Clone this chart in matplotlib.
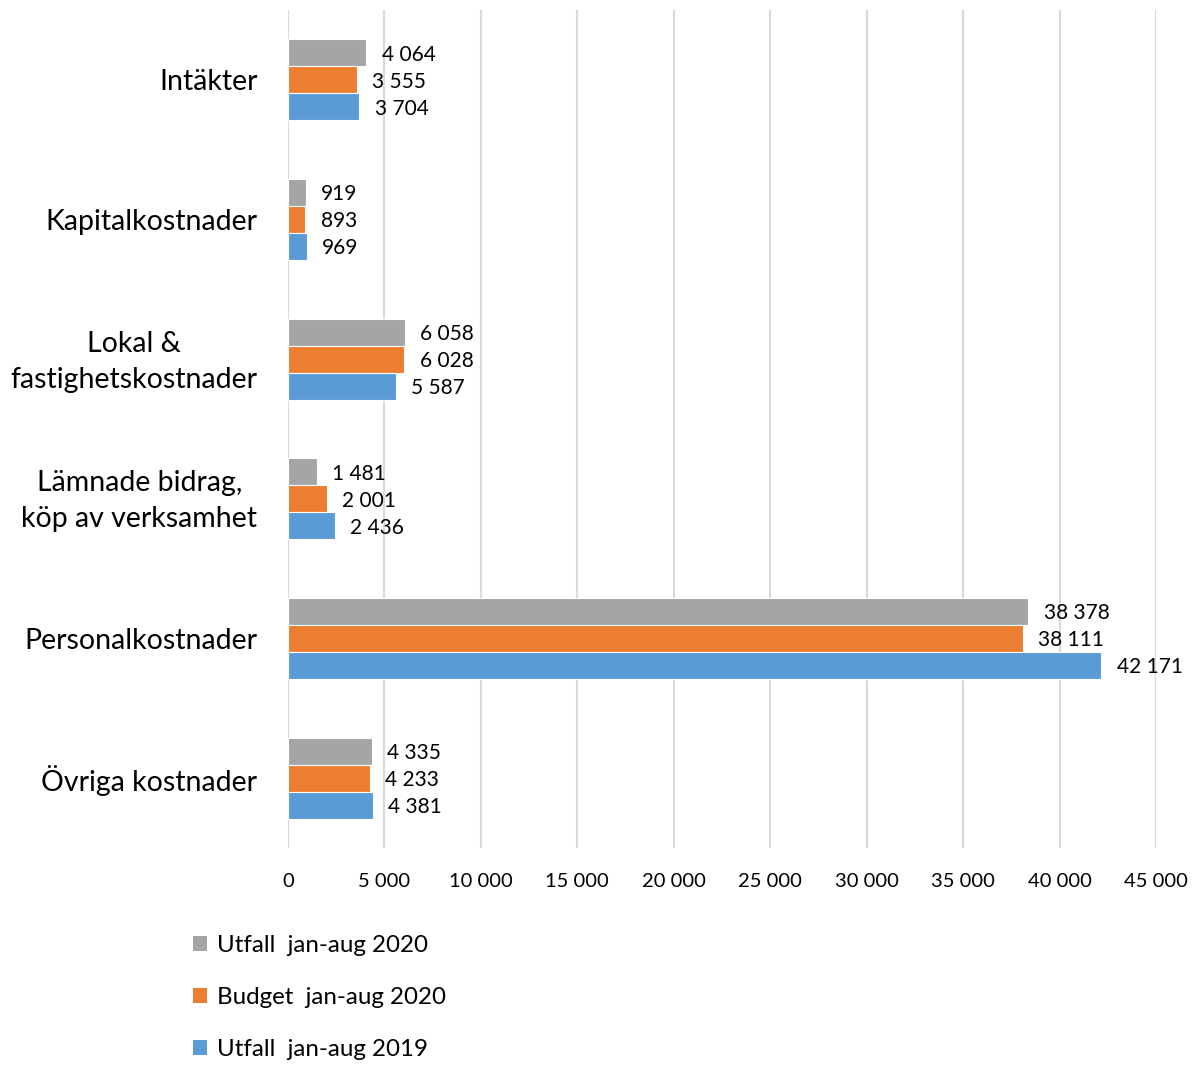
import matplotlib
matplotlib.use("Agg")
import matplotlib.pyplot as plt
import matplotlib.transforms as mtransforms
import numpy as np
from matplotlib.patches import Patch

categories = ["Intäkter", "Kapitalkostnader", "Lokal &\nfastighetskostnader",
              "Lämnade bidrag,\nköp av verksamhet", "Personalkostnader", "Övriga kostnader"]
utfall_2020 = [4064, 919, 6058, 1481, 38378, 4335]
budget_2020 = [3555, 893, 6028, 2001, 38111, 4233]
utfall_2019 = [3704, 969, 5587, 2436, 42171, 4381]
series_names = ["Utfall  jan-aug 2020", "Budget  jan-aug 2020", "Utfall  jan-aug 2019"]
colors = ["#A5A5A5", "#ED7D31", "#5B9BD5"]
xticks = [0, 5000, 10000, 15000, 20000, 25000, 30000, 35000, 40000, 45000]

plt.rcParams['font.family'] = ['Lato', 'DejaVu Sans']

fig = plt.figure(figsize=(12, 10.65), dpi=100)
ax = fig.add_axes([0.24, 0.2038, 0.7233, 0.7868])

y = np.arange(len(categories))
h = 0.193
series = [utfall_2020, budget_2020, utfall_2019]
offsets = [-h, 0, h]

def fmt(v):
    return f"{v:,}".replace(",", " ")

for vals, off, col, name in zip(series, offsets, colors, series_names):
    bars = ax.barh(y + off, vals, height=h, color=col, edgecolor="white", linewidth=0.8, label=name, zorder=3)
    for b, v in zip(bars, vals):
        ax.annotate(fmt(v), (v, b.get_y() + b.get_height() / 2), xytext=(11, -1.3),
                    textcoords="offset points", va="center", ha="left", fontsize=15, color="#000000")

ax.set_ylim(len(categories) - 0.5, -0.5)
ax.set_xlim(0, 45000)
ax.set_xticks(xticks)
ax.set_xticklabels([fmt(t) for t in xticks], fontsize=14.5)
ax.set_yticks(y)
ax.set_yticklabels(categories, fontsize=20.5, multialignment="center", linespacing=1.47)
ax.tick_params(axis="x", length=0, pad=18)
ax.tick_params(axis="y", length=0, pad=22)
for s in ax.spines.values():
    s.set_visible(False)
ax.grid(axis="x", color="#D9D9D9", linewidth=1.5, zorder=0)
ax.set_axisbelow(True)

shift = mtransforms.ScaledTranslation(0, 5 / 100, fig.dpi_scale_trans)
for lab in ax.get_yticklabels():
    if "\n" in lab.get_text():
        lab.set_transform(lab.get_transform() + shift)

handles = [Patch(facecolor=c, edgecolor="none") for c in colors]
fig.legend(handles, series_names, loc="upper left", bbox_to_anchor=(0.153, 0.131),
           frameon=False, fontsize=17.4, handlelength=0.55, handleheight=0.55,
           handletextpad=0.45, labelspacing=1.28, borderaxespad=0)

fig.savefig("out.png", dpi=100)
